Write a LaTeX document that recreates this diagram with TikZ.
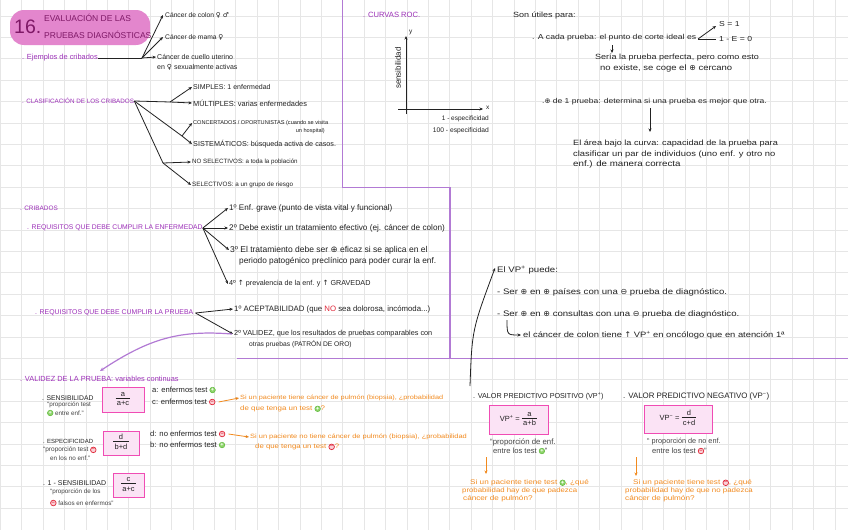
\documentclass[tikz,border=0pt]{standalone}
\usepackage{fontspec}
\setmainfont{Liberation Sans}
\newfontfamily\widefont[FakeStretch=1.2]{Liberation Sans}
\newfontfamily\symfont{DejaVu Sans}
\usetikzlibrary{arrows.meta}
\definecolor{ink}{HTML}{222222}
\definecolor{notec}{HTML}{444444}
\definecolor{purp}{HTML}{9C2FB8}
\definecolor{purpline}{HTML}{B27AD4}
\definecolor{titlec}{HTML}{7E1866}
\definecolor{blob}{HTML}{E386CD}
\definecolor{orng}{HTML}{F28A1E}
\definecolor{boxline}{HTML}{F04CB4}
\definecolor{boxfill}{HTML}{FBE3F5}
\definecolor{gridc}{HTML}{E6E6E6}
\definecolor{gdraw}{HTML}{5DB83A}
\definecolor{gfill}{HTML}{8ED46A}
\definecolor{rdraw}{HTML}{E0283A}
\definecolor{rfill}{HTML}{FAD0D6}
\newcommand\posg{\tikz[baseline=-0.6ex]\node[circle, draw=gdraw, fill=gfill, line width=0.5pt, inner sep=0pt, minimum size=5.6pt, text=white, font=\fontsize{5.5}{5.5}\selectfont\bfseries]{+};}
\newcommand\negr{\tikz[baseline=-0.6ex]\node[circle, draw=rdraw, fill=rfill, line width=0.7pt, inner sep=0pt, minimum size=5.6pt, text=rdraw, font=\fontsize{5.5}{5.5}\selectfont\bfseries]{−};}
\newcommand\posb{{\symfont ⊕}}
\newcommand\negb{{\symfont ⊖}}
\newcommand\uparr{{\symfont ↑}}
\newcommand\fracx[2]{\begin{tabular}{@{\,}c@{\,}}#1\\[-1pt]\hline\rule{0pt}{7.5pt}#2\end{tabular}}
\tikzset{
  txt/.style={anchor=west, inner sep=0pt, text=ink, font=\fontsize{#1}{#1}\selectfont},
  txt/.default=7,
  wtxt/.style={anchor=west, inner sep=0pt, text=ink, font=\widefont\fontsize{#1}{#1}\selectfont},
  wtxt/.default=7.6,
  head/.style={anchor=west, inner sep=0pt, text=purp, font=\fontsize{#1}{#1}\selectfont},
  head/.default=6,
  bhead/.style={anchor=west, inner sep=0pt, text=ink, font=\fontsize{#1}{#1}\selectfont},
  bhead/.default=6.5,
  note/.style={anchor=west, inner sep=0pt, text=notec, font=\fontsize{#1}{#1}\selectfont},
  note/.default=6,
  otxt/.style={anchor=west, inner sep=0pt, text=orng, font=\widefont\fontsize{#1}{#1}\selectfont},
  otxt/.default=6.6,
  titletxt/.style={anchor=west, inner sep=0pt, text=titlec, font=\fontsize{8.5}{8.5}\selectfont},
  fbox/.style={draw=boxline, fill=boxfill, line width=1pt, inner sep=0pt, text=ink, font=\fontsize{7.5}{8}\selectfont},
  con/.style={draw=ink, line width=0.8pt},
  arr/.style={draw=ink, line width=0.8pt, -{Stealth[length=3.5pt,width=3pt]}},
  oarr/.style={draw=orng, line width=0.8pt, -{Stealth[length=3.5pt,width=3pt]}},
  parr/.style={draw=purpline, line width=1.2pt, -{Stealth[length=4pt,width=3.5pt]}},
  divider/.style={draw=purpline, line width=1.4pt},
  gridline/.style={draw=gridc, line width=0.9pt}
}
\begin{document}
\begin{tikzpicture}[x=1pt, y=-1pt]
\useasboundingbox (0,0) rectangle (848,530);
\fill[white] (0,0) rectangle (848,530);
% grid
\foreach \i in {0,...,39} \draw[gridline] (0.5+21.4*\i,0) -- (0.5+21.4*\i,530);
\foreach \j in {0,...,24} \draw[gridline] (0,-5.4+21.4*\j) -- (848,-5.4+21.4*\j);
% dividers
\draw[divider] (342.5,0) -- (342.5,187.2) -- (449.9,187.2) -- (449.9,358.4);
\draw[divider] (237,358.4) -- (848,358.4);

% title
\fill[blob, rounded corners=14pt] (10,10) rectangle (150,45);
\node[anchor=west, inner sep=0pt, text=titlec, font=\fontsize{19.5}{19.5}\selectfont] (t16) at (14,27) {16.};
\node[titletxt] (t1) at (44,18) {EVALUACIÓN DE LAS};
\node[titletxt] (t2) at (44,35) {PRUEBAS DIAGNÓSTICAS};

% ejemplos de cribados
\node[head=7.4] (ej) at (22,58) {. Ejemplos de cribados};
\coordinate (ejj) at (142,58);
\node[txt=6.7] (c1) at (165,15) {Cáncer de colon {\symfont ♀ ♂}};
\node[txt=6.7] (c2) at (165,37) {Cáncer de mama {\symfont ♀}};
\node[txt] (c3) at (157,57) {Cáncer de cuello uterino};
\node[txt] (c3b) at (157,67) {en {\symfont ♀} sexualmente activas};
\draw[con] (ej.east) -- (ejj);
\draw[arr] (ejj) -- ([xshift=-2pt]c1.west);
\draw[arr] (ejj) -- ([xshift=-2pt]c2.west);
\draw[arr] (ejj) -- ([xshift=-1pt]c3.west);

% clasificacion
\node[head=6.3] (cl) at (22,101) {. CLASIFICACIÓN DE LOS CRIBADOS};
\coordinate (clA) at (170,102);
\coordinate (clB) at (182,136);
\coordinate (clC) at (163,163);
\node[txt] (s1) at (193,87) {SIMPLES: 1 enfermedad};
\node[txt=7.4] (s2) at (193,103) {MÚLTIPLES: varias enfermedades};
\node[txt=5.6] (s3) at (193,123) {CONCERTADOS / OPORTUNISTAS (cuando se visita};
\node[txt=5.6, anchor=east] (s3b) at (325,131) {un hospital)};
\node[txt=7.2] (s4) at (193,144) {SISTEMÁTICOS: búsqueda activa de casos.};
\node[txt=6.2] (s5) at (192,162) {NO SELECTIVOS: a toda la población};
\node[txt=6.3] (s6) at (192,185) {SELECTIVOS: a un grupo de riesgo};
\draw[con] (cl.east) -- (clA);
\draw[arr] (clA) -- ([xshift=-1pt]s1.west);
\draw[arr] (clA) -- ([xshift=-1pt]s2.west);
\draw[con] (cl.east) -- (clB);
\draw[arr] (clB) -- ([xshift=-1pt]s4.west);
\draw[arr] (clB) -- ([xshift=-1pt]s3.west);
\draw[con] (cl.east) -- (clC);
\draw[arr] (clC) -- ([xshift=-1pt]s5.west);
\draw[arr] (clC) -- ([xshift=-1pt]s6.west);

% curvas ROC
\node[head=7.6] (roc) at (363,15) {. CURVAS ROC.};
\coordinate (yb) at (406,114);
\coordinate (yt) at (406,36);
\coordinate (xl) at (398,109);
\coordinate (xr) at (483,109);
\draw[arr] (yb) -- (yt);
\draw[arr] (xl) -- (xr);
\node[txt=6.5] (ylab) at (409,32) {y};
\node[txt=6.5] (xlab) at (486,108) {x};
\node[txt=8, rotate=90, anchor=center] (sens) at (398,68) {sensibilidad};
\node[txt=6.5, anchor=east] (e1) at (489,119) {1 - especificidad};
\node[txt=6.7, anchor=east] (e2) at (489,131) {100 - especificidad};

% utiles para
\node[wtxt=7.5] (u0) at (513,16) {Son útiles para:};
\node[wtxt=7.2] (u1) at (532,38) {. A cada prueba: el punto de corte ideal es};
\coordinate (ang) at (698,39);
\coordinate (angt) at (716,26);
\coordinate (angr) at (716,39);
\draw[arr] (ang) -- (angt);
\draw[con] (ang) -- (angr);
\node[wtxt=7.2] (u1a) at (719,24) {S = 1};
\node[wtxt=7.2] (u1b) at (719,39) {1 - E = 0};
\coordinate (arA) at (612,45);
\coordinate (arB) at (612,53);
\draw[arr] (arA) -- (arB);
\node[wtxt=7.5] (u2) at (595,58) {Sería la prueba perfecta, pero como esto};
\node[wtxt=7.9] (u3) at (600,68) {no existe, se coge el \posb\ cercano};
\node[wtxt=7.1] (u4) at (542,102) {.\posb\ de 1 prueba: determina si una prueba es mejor que otra.};
\coordinate (arC) at (650,108);
\coordinate (arD) at (650,132);
\draw[arr] (arC) -- (arD);
\node[wtxt=7.6] (u5) at (573,143) {El área bajo la curva: capacidad de la prueba para};
\node[wtxt=7.8] (u6) at (573,154) {clasificar un par de individuos (uno enf. y otro no};
\node[wtxt=8.1] (u7) at (573,164) {enf.) de manera correcta};

% cribados
\node[head=6.4] (cr) at (20,208) {. CRIBADOS};
\node[head=6.8] (re) at (27,228) {. REQUISITOS QUE DEBE CUMPLIR LA ENFERMEDAD};
\node[txt=8.1] (r1) at (229,208) {1º Enf. grave (punto de vista vital y funcional)};
\node[txt=8.2] (r2) at (229,228) {2º Debe existir un tratamiento efectivo (ej. cáncer de colon)};
\node[txt=8.5] (r3) at (230,250) {3º El tratamiento debe ser \posb\ eficaz si se aplica en el};
\node[txt=8.3] (r3b) at (239,261) {periodo patogénico preclínico para poder curar la enf.};
\node[txt=7.2] (r4) at (229,284) {4º \uparr\ prevalencia de la enf. y \uparr\ GRAVEDAD};
\draw[arr] (re.east) -- ([xshift=-1pt]r1.west);
\draw[arr] (re.east) -- ([xshift=-1pt]r2.west);
\draw[arr] (re.east) -- ([xshift=-1pt]r3.west);
\draw[arr] (re.east) -- ([xshift=-1pt]r4.west);

\node[head=6.9] (rp) at (35,313) {. REQUISITOS QUE DEBE CUMPLIR LA PRUEBA};
\node[txt=7.8] (p1) at (234,309) {1º ACEPTABILIDAD (que \textcolor{rdraw}{NO} sea dolorosa, incómoda...)};
\node[txt=7.3] (p2) at (234,334) {2º VALIDEZ, que los resultados de pruebas comparables con};
\node[txt=6.7] (p2b) at (249,344) {otras pruebas (PATRÓN DE ORO)};
\draw[arr] ([xshift=2pt]rp.east) -- ([xshift=-1pt]p1.west);
\draw[arr] ([xshift=2pt]rp.east) -- ([xshift=-1pt]p2.west);

% validez
\coordinate (vlend) at (100,371);
\draw[parr] ([xshift=-2pt]p2.west) .. controls (180,330) and (150,338) .. (vlend);
\node[head=7.4] (vl) at (20,379) {. VALIDEZ DE LA PRUEBA: variables continuas};

% sensibilidad
\node[bhead=6.8] (se) at (42,398) {. SENSIBILIDAD};
\node[note=6.3] (se1) at (47,405) {“proporción test};
\node[note=6.3] (se2) at (47,413) {\posg\ entre enf.”};
\node[fbox, minimum width=42pt, minimum height=25pt] (bse) at (123,399.5) {\fracx{a}{a+c}};
\node[txt=7.6] (sea) at (152,390) {a: enfermos test \posg};
\node[txt=7.6] (sec) at (152,402) {c: enfermos test \negr};
\node[otxt=6.1] (o1) at (240,398) {Si un paciente tiene cáncer de pulmón (biopsia), ¿probabilidad};
\node[otxt=6.6] (o1b) at (240,409) {de que tenga un test \posg?};
\draw[oarr] ([xshift=3pt]sec.east) -- ([xshift=-1pt]o1.west);

% especificidad
\node[bhead=6] (es) at (43,441) {. ESPECIFICIDAD};
\node[note=6.5] (es1) at (43,450) {“proporción test \negr};
\node[note=6.3] (es2) at (50,458) {en los no enf.”};
\node[fbox, minimum width=36pt, minimum height=24pt] (bes) at (121,443) {\fracx{d}{b+d}};
\node[txt=7.7] (esd) at (150,434) {d: no enfermos test \negr};
\node[txt=7.7] (esb) at (150,445) {b: no enfermos test \posg};
\node[otxt=6.2] (o2) at (250,437) {Si un paciente no tiene cáncer de pulmón (biopsia), ¿probabilidad};
\node[otxt=6.5] (o2b) at (255,447) {de que tenga un test \negr?};
\draw[oarr] ([xshift=3pt]esd.east) -- ([xshift=-1pt]o2.west);

% 1 - sensibilidad
\node[bhead=7] (ms) at (43,483) {. 1 - SENSIBILIDAD};
\node[note=6.3] (ms1) at (50,492) {“proporción de los};
\node[note=6.3] (ms2) at (50,503) {\negr\ falsos en enfermos”};
\node[fbox, minimum width=31pt, minimum height=24pt] (bms) at (128.5,485) {\fracx{c}{a+c}};

% VP+ puede
\node[wtxt=8] (vp) at (497,270) {El VP\textsuperscript{+} puede:};
\node[wtxt=8] (vp1) at (497,292) {- Ser \posb\ en \posb\ países con una \negb\ prueba de diagnóstico.};
\node[wtxt=8] (vp2) at (497,314) {- Ser \posb\ en \posb\ consultas con una \negb\ prueba de diagnóstico.};
\node[wtxt=7.8] (vp3) at (523,335) {el cáncer de colon tiene \uparr\ VP\textsuperscript{+} en oncólogo que en atención 1ª};
\coordinate (vpk) at (507,320);
\draw[arr] (vpk) .. controls (507,335) .. ([xshift=-2pt]vp3.west);
\coordinate (vpa) at (470,386);
\draw[arr] (vpa) .. controls (472,330) .. ([xshift=-2pt,yshift=2pt]vp.west);

% VPP
\node[bhead=7.2] (vpp) at (473,396) {. VALOR PREDICTIVO POSITIVO (VP\textsuperscript{+})};
\node[fbox, minimum width=59pt, minimum height=29pt] (bvpp) at (518.5,419.5) {VP\textsuperscript{+} = \fracx{a}{a+b}};
\node[note=7.8] (vpp1) at (490,442) {“proporción de enf.};
\node[note=7.6] (vpp2) at (493,451) {entre los test \posg”};
\coordinate (vppa) at (486,457);
\coordinate (vppb) at (486,474);
\draw[oarr] (vppa) -- (vppb);
\node[otxt=6.8] (ovp1) at (470,483) {Si un paciente tiene test \posg, ¿qué};
\node[otxt=6.5] (ovp2) at (462,491) {probabilidad hay de que padezca};
\node[otxt=6.8] (ovp3) at (463,499) {cáncer de pulmón?};

% VPN
\node[bhead=7.9] (vpn) at (623,396) {. VALOR PREDICTIVO NEGATIVO (VP\textsuperscript{−})};
\node[fbox, minimum width=68pt, minimum height=28pt] (bvpn) at (678,419) {VP\textsuperscript{−} = \fracx{d}{c+d}};
\node[note=7.3] (vpn1) at (647,442) {“ proporción de no enf.};
\node[note=7.6] (vpn2) at (652,451) {entre los test \negr ”};
\coordinate (vpna) at (636,457);
\coordinate (vpnb) at (636,476);
\draw[oarr] (vpna) -- (vpnb);
\node[otxt=6.8] (ovn1) at (633,483) {Si un paciente tiene test \negr, ¿qué};
\node[otxt=6.6] (ovn2) at (625,491) {probabilidad hay de que no padezca};
\node[otxt=6.8] (ovn3) at (625,499) {cáncer de pulmón?};
\end{tikzpicture}
\end{document}
